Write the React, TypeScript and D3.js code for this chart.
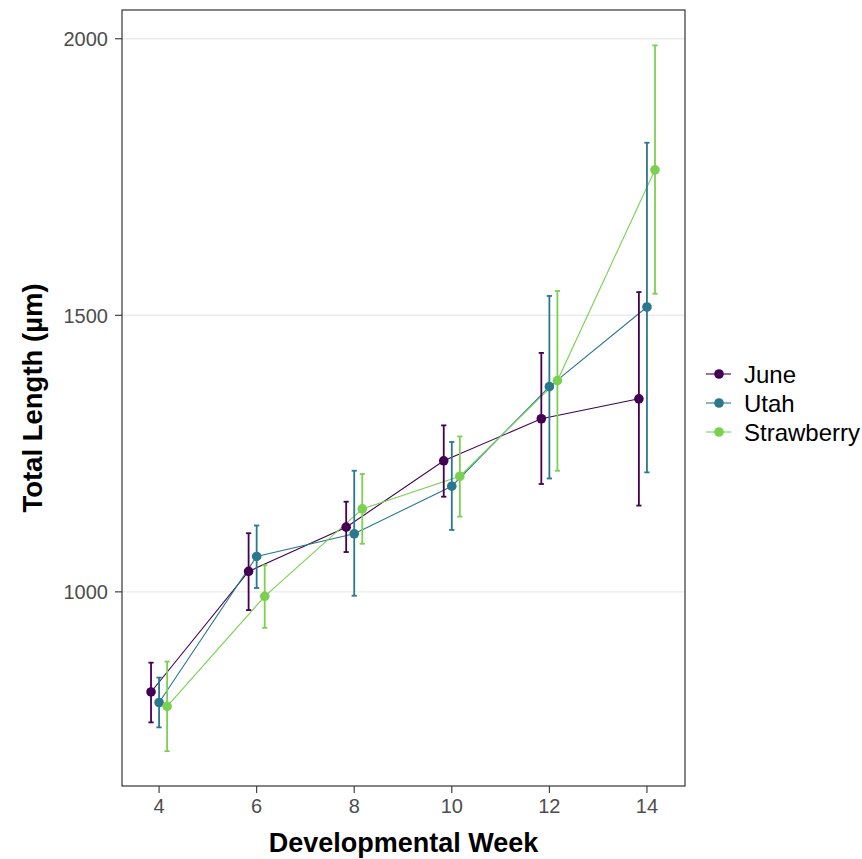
import * as d3 from "d3";

const weeks = [4, 6, 8, 10, 12, 14];
const xTicks = [4, 6, 8, 10, 12, 14];
const yTicks = [1000, 1500, 2000];

const seriesNames = ["June", "Utah", "Strawberry"];
const seriesColors = ["#440154", "#2A788E", "#7AD151"];

const juneMean = [819, 1037, 1117, 1237, 1313, 1349];
const juneLow = [764, 967, 1072, 1172, 1195, 1156];
const juneHigh = [872, 1106, 1163, 1301, 1432, 1542];

const utahMean = [800, 1064, 1105, 1191, 1371, 1515];
const utahLow = [755, 1007, 993, 1112, 1205, 1216];
const utahHigh = [845, 1120, 1219, 1271, 1535, 1812];

const strawMean = [793, 992, 1150, 1209, 1382, 1763];
const strawLow = [712, 935, 1087, 1136, 1219, 1539];
const strawHigh = [874, 1048, 1213, 1281, 1544, 1988];

const means = [juneMean, utahMean, strawMean];
const lows = [juneLow, utahLow, strawLow];
const highs = [juneHigh, utahHigh, strawHigh];

const W = 862;
const H = 859;
const panel = { left: 122, right: 685, top: 10, bottom: 786 };
const dodge = 0.165; // position_dodge offset, in weeks
const font = "'Liberation Sans', Arial, sans-serif";

export default function App() {
  const x = d3.scaleLinear().domain([3.24, 14.78]).range([panel.left, panel.right]);
  const y = d3.scaleLinear().domain([649, 2052]).range([panel.bottom, panel.top]);

  const series = seriesNames.map((name, s) => ({
    name,
    color: seriesColors[s],
    pts: weeks.map((w, i) => ({
      wx: w + (s - 1) * dodge,
      mean: means[s][i],
      low: lows[s][i],
      high: highs[s][i],
    })),
  }));

  const line = d3
    .line<{ wx: number; mean: number }>()
    .x((d) => x(d.wx))
    .y((d) => y(d.mean));

  const cap = 2.6;

  return (
    <svg
      width={W}
      height={H}
      style={{ position: "absolute", left: 0, top: 0, background: "#fff" }}
      fontFamily={font}
    >
      <rect x={0} y={0} width={W} height={H} fill="#fff" />
      {/* grid */}
      {yTicks.map((t) => (
        <line
          key={t}
          x1={panel.left}
          x2={panel.right}
          y1={y(t)}
          y2={y(t)}
          stroke="#ebebeb"
          strokeWidth={1.4}
        />
      ))}
      {/* lines */}
      {series.map((s) => (
        <path key={s.name} d={line(s.pts) || ""} fill="none" stroke={s.color} strokeWidth={1.1} />
      ))}
      {/* error bars */}
      {series.map((s) => (
        <g key={s.name} stroke={s.color} strokeWidth={1.8}>
          {s.pts.map((p, i) => (
            <g key={i}>
              <line x1={x(p.wx)} x2={x(p.wx)} y1={y(p.low)} y2={y(p.high)} />
              <line x1={x(p.wx) - cap} x2={x(p.wx) + cap} y1={y(p.low)} y2={y(p.low)} />
              <line x1={x(p.wx) - cap} x2={x(p.wx) + cap} y1={y(p.high)} y2={y(p.high)} />
            </g>
          ))}
        </g>
      ))}
      {/* points */}
      {series.map((s) => (
        <g key={s.name} fill={s.color}>
          {s.pts.map((p, i) => (
            <circle key={i} cx={x(p.wx)} cy={y(p.mean)} r={4.8} />
          ))}
        </g>
      ))}
      {/* panel border */}
      <rect
        x={panel.left}
        y={panel.top}
        width={panel.right - panel.left}
        height={panel.bottom - panel.top}
        fill="none"
        stroke="#222"
        strokeWidth={1.1}
      />
      {/* y axis */}
      {yTicks.map((t) => (
        <g key={t} transform={`translate(0,${y(t)})`}>
          <line x1={panel.left - 7} x2={panel.left} stroke="#333" strokeWidth={1.1} />
          <text x={panel.left - 14} dy="0.36em" textAnchor="end" fontSize={20} fill="#4d4d4d">
            {t}
          </text>
        </g>
      ))}
      {/* x axis */}
      {xTicks.map((t) => (
        <g key={t} transform={`translate(${x(t)},0)`}>
          <line y1={panel.bottom} y2={panel.bottom + 7} stroke="#333" strokeWidth={1.1} />
          <text y={813} textAnchor="middle" fontSize={20} fill="#4d4d4d">
            {t}
          </text>
        </g>
      ))}
      {/* titles */}
      <text
        x={(panel.left + panel.right) / 2}
        y={852}
        textAnchor="middle"
        fontSize={27}
        fontWeight="bold"
        fill="#000"
      >
        Developmental Week
      </text>
      <text
        transform={`translate(42,${(panel.top + panel.bottom) / 2}) rotate(-90)`}
        textAnchor="middle"
        fontSize={27.5}
        fontWeight="bold"
        fill="#000"
      >
        Total Length (µm)
      </text>
      {/* legend */}
      {series.map((s, i) => (
        <g key={s.name} transform={`translate(0,${374 + i * 29})`}>
          <line x1={706} x2={731} stroke={s.color} strokeWidth={1.1} />
          <circle cx={719} cy={0} r={4.8} fill={s.color} />
          <text x={744} dy="0.36em" fontSize={24} fill="#000">
            {s.name}
          </text>
        </g>
      ))}
    </svg>
  );
}
